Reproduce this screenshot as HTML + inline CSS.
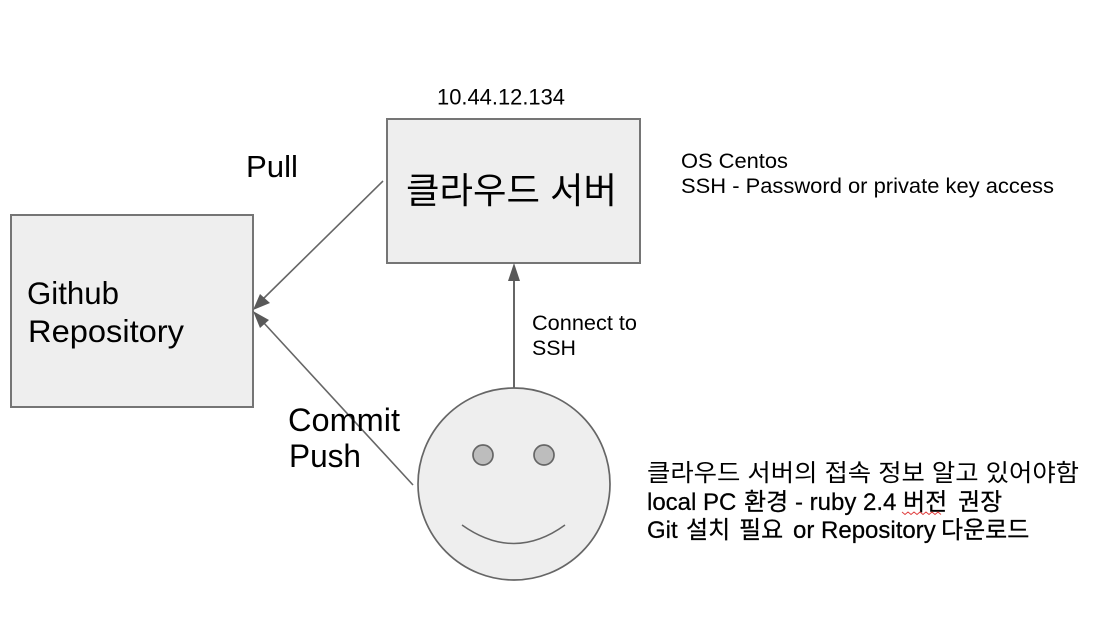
<!DOCTYPE html>
<html><head><meta charset="utf-8"><style>
html,body{margin:0;padding:0;background:#fff;width:1113px;height:617px;overflow:hidden}
svg{display:block}
text{font-family:"Liberation Sans","Noto Sans CJK KR","NanumGothic",sans-serif;fill:#000}
</style></head><body>
<svg width="1113" height="617" viewBox="0 0 1113 617" xmlns="http://www.w3.org/2000/svg">
<rect x="387" y="119" width="253" height="144" fill="#eeeeee" stroke="#757575" stroke-width="2"/>
<rect x="11" y="215" width="242" height="192" fill="#eeeeee" stroke="#757575" stroke-width="2"/>
<circle cx="514" cy="484" r="96" fill="#eeeeee" stroke="#666" stroke-width="1.7"/>
<circle cx="483" cy="455" r="10" fill="#bdbdbd" stroke="#666" stroke-width="1.7"/>
<circle cx="544" cy="455" r="10" fill="#bdbdbd" stroke="#666" stroke-width="1.7"/>
<path d="M462 525 Q514 562 565 525" fill="none" stroke="#666" stroke-width="1.5"/>
<line x1="514" y1="388" x2="514" y2="278" stroke="#666" stroke-width="2"/>
<polygon points="514,263 508,281 520,281" fill="#595959"/>
<line x1="383" y1="181" x2="262" y2="300" stroke="#666" stroke-width="1.6"/>
<polygon points="253,310 260,294 270,303" fill="#595959"/>
<line x1="413" y1="485" x2="263" y2="322" stroke="#666" stroke-width="1.6"/>
<polygon points="253,311 269,320 260,328" fill="#595959"/>
<text x="437" y="104.500" font-size="21.800" textLength="128" lengthAdjust="spacingAndGlyphs">10.44.12.134</text>
<text x="406" y="203" font-size="36" textLength="211" lengthAdjust="spacingAndGlyphs">클라우드 서버</text>
<text x="246" y="177" font-size="31" textLength="52" lengthAdjust="spacingAndGlyphs">Pull</text>
<text x="681" y="168" font-size="21.500" textLength="107" lengthAdjust="spacingAndGlyphs">OS Centos</text>
<text x="681" y="193" font-size="21.500" textLength="373" lengthAdjust="spacingAndGlyphs">SSH - Password or private key access</text>
<text x="27" y="304" font-size="31.500" textLength="92" lengthAdjust="spacingAndGlyphs">Github</text>
<text x="28" y="342" font-size="31.500" textLength="156" lengthAdjust="spacingAndGlyphs">Repository</text>
<text x="532" y="330" font-size="21.500" textLength="105" lengthAdjust="spacingAndGlyphs">Connect to</text>
<text x="532" y="355" font-size="21.500" textLength="44" lengthAdjust="spacingAndGlyphs">SSH</text>
<text x="288" y="431" font-size="32" textLength="112" lengthAdjust="spacingAndGlyphs">Commit</text>
<text x="289" y="467" font-size="32" textLength="72" lengthAdjust="spacingAndGlyphs">Push</text>
<text x="647" y="481" font-size="24" textLength="432" lengthAdjust="spacingAndGlyphs">클라우드 서버의 접속 정보 알고 있어야함</text>
<text y="510" font-size="24" stroke="#000" stroke-width="0.25"><tspan x="647">local PC</tspan><tspan x="744">환경</tspan><tspan x="795">- ruby 2.4</tspan><tspan x="903">버전</tspan><tspan x="958">권장</tspan></text>
<text y="538" font-size="24" stroke="#000" stroke-width="0.25"><tspan x="647">Git</tspan><tspan x="686">설치</tspan><tspan x="739">필요</tspan><tspan x="793">or Repository</tspan><tspan x="941">다운로드</tspan></text>
<path d="M902 512 l3 2.5 l3 -2.5 l3 2.5 l3 -2.5 l3 2.5 l3 -2.5 l3 2.5 l3 -2.5 l3 2.5 l3 -2.5 l3 2.5 l3 -2.5 l3 2.5" fill="none" stroke="#e04040" stroke-width="1"/>
</svg>
</body></html>
